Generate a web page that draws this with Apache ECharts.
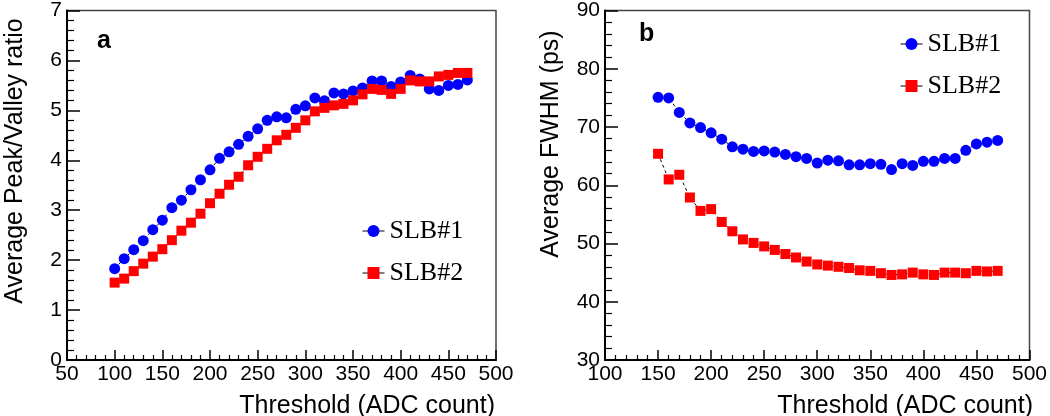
<!DOCTYPE html>
<html lang="en">
<head>
    <meta charset="UTF-8">
    <title>Peak/Valley and FWHM vs threshold</title>
    <script src="https://cdn.jsdelivr.net/npm/echarts@6/dist/echarts.min.js"></script>
    <style>
        html, body { margin: 0; padding: 0; background: #fff; }
        #main { width: 1050px; height: 416px; }
    </style>
</head>
<body>
<div id="main"></div>
<script type="text/javascript">

    // panel a : threshold 100..470
    var thresholdA = [100, 110, 120, 130, 140, 150, 160, 170, 180, 190,
        200, 210, 220, 230, 240, 250, 260, 270, 280, 290,
        300, 310, 320, 330, 340, 350, 360, 370, 380, 390,
        400, 410, 420, 430, 440, 450, 460, 470];
    var pvSlb1 = [1.83, 2.03, 2.21, 2.39, 2.61, 2.80, 3.05, 3.20, 3.41, 3.61,
        3.81, 4.04, 4.17, 4.32, 4.48, 4.63, 4.80, 4.87, 4.85, 5.02,
        5.09, 5.25, 5.19, 5.35, 5.33, 5.39, 5.45, 5.59, 5.59, 5.48,
        5.57, 5.70, 5.63, 5.43, 5.40, 5.50, 5.52, 5.61];
    var pvSlb2 = [1.55, 1.63, 1.78, 1.93, 2.07, 2.22, 2.40, 2.59, 2.75, 2.93,
        3.14, 3.33, 3.51, 3.67, 3.90, 4.07, 4.23, 4.40, 4.51, 4.65,
        4.80, 4.98, 5.05, 5.10, 5.13, 5.20, 5.32, 5.43, 5.41, 5.33,
        5.43, 5.60, 5.58, 5.58, 5.68, 5.71, 5.75, 5.75];

    // panel b : threshold 150..470
    var thresholdB = [150, 160, 170, 180, 190, 200, 210, 220, 230, 240,
        250, 260, 270, 280, 290, 300, 310, 320, 330, 340,
        350, 360, 370, 380, 390, 400, 410, 420, 430, 440,
        450, 460, 470];
    var fwhmSlb1 = [75.1, 75.0, 72.5, 70.7, 69.9, 69.0, 67.9, 66.6, 66.2, 65.8,
        65.9, 65.7, 65.3, 64.9, 64.6, 63.8, 64.3, 64.2, 63.5, 63.5,
        63.7, 63.6, 62.7, 63.7, 63.4, 64.1, 64.1, 64.6, 64.6, 66.0,
        67.1, 67.4, 67.7];
    var fwhmSlb2 = [65.4, 61.0, 61.8, 57.9, 55.6, 55.9, 53.7, 52.1, 50.7, 50.1,
        49.5, 48.9, 48.2, 47.6, 46.9, 46.4, 46.2, 46.0, 45.8, 45.4,
        45.3, 44.9, 44.6, 44.7, 45.0, 44.7, 44.6, 45.0, 45.0, 44.9,
        45.3, 45.2, 45.3];

    var seriesNames = ['SLB#1', 'SLB#2'];

    function pairs(xs, ys) {
        var out = [];
        for (var i = 0; i < xs.length; i++) {
            out.push([xs[i], ys[i]]);
        }
        return out;
    }

    var sans = 'Liberation Sans, Arial, sans-serif';
    var serif = 'Liberation Serif, Times New Roman, serif';

    function xAxisOf(idx, min) {
        return {
            type: 'value', gridIndex: idx, min: min, max: 500, interval: 50,
            axisLine: {onZero: false, lineStyle: {color: '#000', width: 2}},
            axisTick: {inside: true, length: 10, lineStyle: {color: '#000', width: 1.5}},
            minorTick: {show: true, splitNumber: 5, length: 5, lineStyle: {color: '#000', width: 1.2}},
            splitLine: {show: false},
            axisLabel: {color: '#000', fontFamily: sans, fontSize: 21, margin: 4}
        };
    }

    function yAxisOf(idx, min, max, step) {
        return {
            type: 'value', gridIndex: idx, min: min, max: max, interval: step,
            axisLine: {onZero: false, lineStyle: {color: '#000', width: 2}},
            axisTick: {inside: true, length: 13, lineStyle: {color: '#000', width: 1.5}},
            minorTick: {show: true, splitNumber: 5, length: 7, lineStyle: {color: '#000', width: 1.2}},
            splitLine: {show: false},
            axisLabel: {color: '#000', fontFamily: sans, fontSize: 21, margin: 5}
        };
    }

    function seriesOf(name, idx, data, symbol, size, color) {
        return {
            name: name, type: 'line', xAxisIndex: idx, yAxisIndex: idx,
            data: data, symbol: symbol, symbolSize: size, showSymbol: true,
            itemStyle: {color: color},
            lineStyle: {color: '#000', width: 1, type: [3, 3]}
        };
    }

    function legendOf(left, top) {
        return {
            data: seriesNames, orient: 'vertical', left: left, top: top,
            itemWidth: 22, itemHeight: 15, itemGap: 16,
            lineStyle: {color: '#000', width: 1, type: 'solid'},
            textStyle: {color: '#000', fontFamily: serif, fontSize: 26}
        };
    }

    var chart = echarts.init(document.getElementById('main'));

    var option = {
        animation: false,
        backgroundColor: '#fff',
        grid: [
            {left: 67, top: 10, width: 429, height: 350, show: true, borderColor: '#444', borderWidth: 1.5},
            {left: 605, top: 10, width: 428, height: 350, show: true, borderColor: '#444', borderWidth: 1.5}
        ],
        xAxis: [xAxisOf(0, 50), xAxisOf(1, 100)],
        yAxis: [yAxisOf(0, 0, 7, 1), yAxisOf(1, 30, 90, 10)],
        legend: [legendOf(357, 213), legendOf(895, 26)],
        series: [
            seriesOf('SLB#1', 0, pairs(thresholdA, pvSlb1), 'circle', 11, '#0000ff'),
            seriesOf('SLB#2', 0, pairs(thresholdA, pvSlb2), 'rect', 10, '#ff0000'),
            seriesOf('SLB#1', 1, pairs(thresholdB, fwhmSlb1), 'circle', 11, '#0000ff'),
            seriesOf('SLB#2', 1, pairs(thresholdB, fwhmSlb2), 'rect', 10, '#ff0000')
        ],
        graphic: [
            {type: 'text', x: 15, y: 161, rotation: Math.PI / 2,
                style: {text: 'Average Peak/Valley ratio', font: '25px ' + sans, fill: '#000',
                    textAlign: 'center', textVerticalAlign: 'middle'}},
            {type: 'text', x: 551, y: 144, rotation: Math.PI / 2,
                style: {text: 'Average FWHM (ps)', font: '25px ' + sans, fill: '#000',
                    textAlign: 'center', textVerticalAlign: 'middle'}},
            {type: 'text', x: 495, y: 394,
                style: {text: 'Threshold (ADC count)', font: '25px ' + sans, fill: '#000',
                    textAlign: 'right', textVerticalAlign: 'top'}},
            {type: 'text', x: 1033, y: 394,
                style: {text: 'Threshold (ADC count)', font: '25px ' + sans, fill: '#000',
                    textAlign: 'right', textVerticalAlign: 'top'}},
            {type: 'text', x: 97, y: 41,
                style: {text: 'a', font: 'bold 25px ' + sans, fill: '#000',
                    textAlign: 'left', textVerticalAlign: 'middle'}},
            {type: 'text', x: 639, y: 34,
                style: {text: 'b', font: 'bold 25px ' + sans, fill: '#000',
                    textAlign: 'left', textVerticalAlign: 'middle'}}
        ]
    };

    chart.setOption(option);
</script>
</body>
</html>
